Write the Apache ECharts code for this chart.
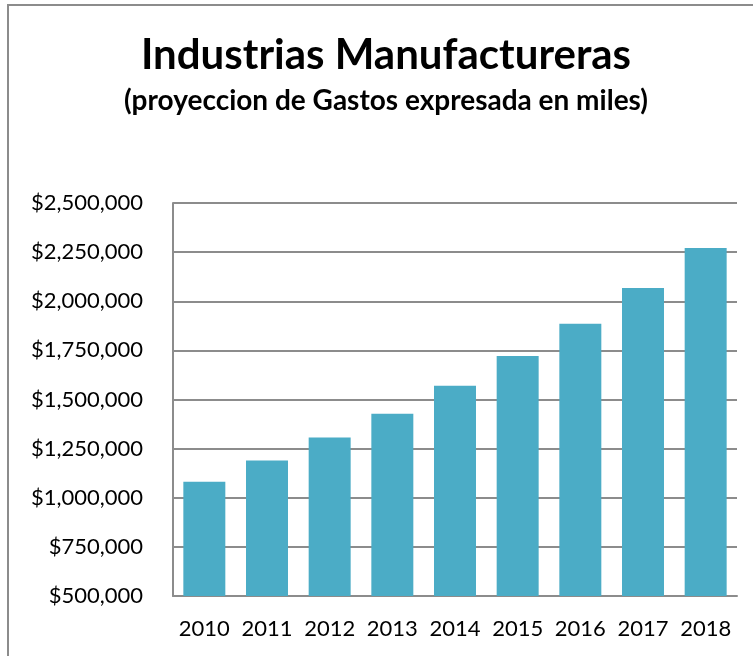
<!DOCTYPE html>
<html>
<head>
<meta charset="utf-8">
<script src="https://cdn.jsdelivr.net/npm/echarts@6/dist/echarts.min.js"></script>
<style>
  html, body { margin: 0; padding: 0; background: #fff; }
  #chart { width: 753px; height: 656px; }
</style>
</head>
<body>
<div id="chart"></div>
<script>
// Projected manufacturing expenses per year (in thousands)
const years = ['2010', '2011', '2012', '2013', '2014', '2015', '2016', '2017', '2018'];
const gastos = [1082000, 1189000, 1306000, 1428000, 1570000, 1722000, 1885000, 2068000, 2271000];
const yTicks = [500000, 750000, 1000000, 1250000, 1500000, 1750000, 2000000, 2250000, 2500000];

const titleText = 'Industrias Manufactureras';
const subtitleText = '(proyeccion de Gastos expresada en miles)';

const FONT = 'Lato, "Open Sans", sans-serif';
const GRID_COLOR = '#8c8c8c';

const chart = echarts.init(document.getElementById('chart'), null, { renderer: 'canvas' });

const money = v => '$' + v.toLocaleString('en-US');

chart.setOption({
  animation: false,
  backgroundColor: '#ffffff',
  graphic: [
    {
      type: 'rect',
      shape: { x: 8, y: 5, width: 780, height: 700 },
      style: { fill: 'none', stroke: '#8c8c8c', lineWidth: 2 },
      silent: true
    },
    {
      type: 'text',
      x: 386, y: 55,
      style: {
        text: titleText,
        font: 'bold 42px ' + FONT,
        fill: '#000',
        textAlign: 'center',
        textVerticalAlign: 'middle'
      }
    },
    {
      type: 'text',
      x: 386, y: 101,
      style: {
        text: subtitleText,
        font: 'bold 28px ' + FONT,
        fill: '#000',
        textAlign: 'center',
        textVerticalAlign: 'middle'
      }
    }
  ],
  grid: { left: 173, right: 16, top: 203, bottom: 60, containLabel: false },
  xAxis: {
    type: 'category',
    data: years,
    axisTick: { show: false },
    axisLine: { show: true, lineStyle: { color: GRID_COLOR, width: 2 } },
    axisLabel: { color: '#000', fontFamily: FONT, fontSize: 22, margin: 22, interval: 0 }
  },
  yAxis: {
    type: 'value',
    min: yTicks[0],
    max: yTicks[yTicks.length - 1],
    interval: yTicks[1] - yTicks[0],
    axisLine: { show: true, lineStyle: { color: GRID_COLOR, width: 2 } },
    axisTick: { show: false },
    splitLine: { show: true, lineStyle: { color: GRID_COLOR, width: 2 } },
    axisLabel: { color: '#000', fontFamily: FONT, fontSize: 22, margin: 30, formatter: money }
  },
  series: [
    {
      type: 'bar',
      data: gastos,
      barCategoryGap: '33%',
      itemStyle: { color: '#4BACC6' }
    }
  ]
});
</script>
</body>
</html>
